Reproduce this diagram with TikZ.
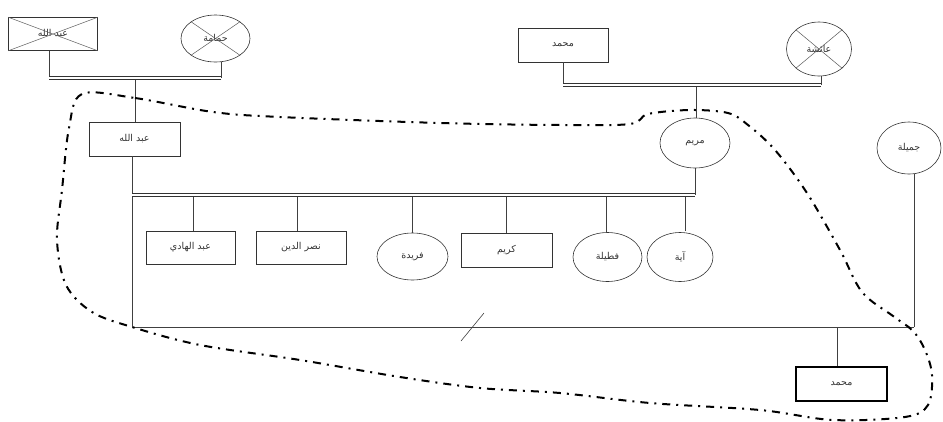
\documentclass[tikz,border=0pt]{standalone}
\usepackage{fontspec}
\newfontfamily\arabicfont[Script=Arabic]{DejaVu Sans}
\TeXXeTstate=1
\usetikzlibrary{shapes.geometric}
\newcommand{\ar}[1]{{\arabicfont\beginR #1\endR}}
\tikzset{
  base/.style={draw=black!80, line width=0.6pt, inner sep=0pt, font=\fontsize{9.5}{11}\selectfont, text=black!80},
  pbox/.style={base, rectangle, minimum width=89pt, minimum height=33pt},
  pcirc/.style={base, ellipse},
  conn/.style={draw=black!75, line width=0.6pt},
  marr/.style={draw=black!80, line width=0.7pt, double=white, double distance=2.6pt},
  cross/.style={draw=black!65, line width=0.5pt},
  bound/.style={draw=black, line width=2pt, dash pattern=on 8pt off 6pt on 2pt off 6pt}
}
\begin{document}
\begin{tikzpicture}[x=1pt,y=-1pt]
\useasboundingbox (0,0) rectangle (943,421);
% generation 1
\node[pbox] (ab1) at (53,34) {\ar{عبد الله}};
\node[pcirc, minimum width=69pt, minimum height=47pt] (ham) at (215.5,38.5) {\ar{حمامة}};
\node[pbox, minimum width=90pt, minimum height=34pt] (mo1) at (563,45) {\ar{محمد}};
\node[pcirc, minimum width=65pt, minimum height=54pt] (ais) at (819,49) {\ar{عائشة}};
\draw[cross] (ab1.north west) -- (ab1.south east) (ab1.south west) -- (ab1.north east);
\draw[cross] (ham.north west) -- (ham.south east) (ham.south west) -- (ham.north east);
\draw[cross] (ais.north west) -- (ais.south east) (ais.south west) -- (ais.north east);
% generation 2
\node[pbox, minimum width=91pt, minimum height=34pt] (ab2) at (134.5,139) {\ar{عبد الله}};
\node[pcirc, minimum width=70pt, minimum height=50pt] (mar) at (695,143) {\ar{مريم}};
\node[pcirc, minimum width=64pt, minimum height=52pt] (jam) at (909,148) {\ar{جميلة}};
% generation 3
\node[pbox] (abh) at (190.5,247.5) {\ar{عبد الهادي}};
\node[pbox, minimum width=90pt] (nas) at (301,247.5) {\ar{نصر الدين}};
\node[pcirc, minimum width=71pt, minimum height=47pt] (far) at (412.5,256.5) {\ar{فريدة}};
\node[pbox, minimum width=91pt, minimum height=34pt] (kar) at (506.5,250) {\ar{كريم}};
\node[pcirc, minimum width=69pt, minimum height=49pt] (fat) at (607.5,257) {\ar{فطيلة}};
\node[pcirc, minimum width=66pt, minimum height=49pt] (aya) at (680,257) {\ar{آية}};
\node[pbox, minimum width=91pt, minimum height=34pt, line width=2.6pt, draw=black] (mo2) at (841.5,384) {\ar{محمد}};
% junction coordinates
\coordinate (m1l) at (49,78);
\coordinate (m1r) at (221,78);
\coordinate (m1c) at (135,79.6);
\coordinate (m2l) at (563,85);
\coordinate (m2r) at (821,85);
\coordinate (m2c) at (696,86.6);
\coordinate (m3l) at (132,195);
\coordinate (m3b) at (132,196.6);
\coordinate (m3r) at (695,195);
\coordinate (c1) at (193,196.6);
\coordinate (c2) at (297,196.6);
\coordinate (c3) at (412,196.6);
\coordinate (c4) at (506,196.6);
\coordinate (c5) at (606,196.6);
\coordinate (c6) at (685,196.6);
\coordinate (m4l) at (132,327);
\coordinate (m4r) at (914,327);
\coordinate (m4c) at (837,327);
\coordinate (s1) at (461,341);
\coordinate (s2) at (484,313);
% couple 1
\draw[conn] (ab1.south -| m1l) -- (m1l);
\draw[conn] (ham.south -| m1r) -- (m1r);
\draw[marr] (m1l) -- (m1r);
\draw[conn] (m1c) -- (ab2.north -| m1c);
% couple 2
\draw[conn] (mo1.south -| m2l) -- (m2l);
\draw[conn] (ais.south -| m2r) -- (m2r);
\draw[marr] (m2l) -- (m2r);
\draw[conn] (m2c) -- (mar.north -| m2c);
% couple 3
\draw[conn] (ab2.south -| m3l) -- (m3l);
\draw[conn] (mar.south -| m3r) -- (m3r);
\draw[marr] (m3l) -- (m3r);
\draw[conn] (c1) -- (abh.north -| c1);
\draw[conn] (c2) -- (nas.north -| c2);
\draw[conn] (c3) -- (far.north -| c3);
\draw[conn] (c4) -- (kar.north -| c4);
\draw[conn] (c5) -- (fat.north -| c5);
\draw[conn] (c6) -- ([yshift=0.8pt]aya.north -| c6);
% couple 4
\draw[conn] (m3b) -- (m4l);
\draw[conn] (jam.south -| m4r) -- (m4r);
\draw[conn] (m4l) -- (m4r);
\draw[conn] (m4c) -- (mo2.north -| m4c);
\draw[conn] (s1) -- (s2);
% household boundary
\draw[bound] plot[smooth cycle, tension=0.55] coordinates {
(82,94) (135,98) (213,112) (280,117) (440,123) (560,125) (630,124)
(648,114) (690,110) (728,113) (748,125) (775,150) (807,193) (840,250)
(862,292) (893,316) (913,331) (925,350) (932,375) (928,405) (905,417)
(833,420) (760,410) (650,403) (560,393) (480,388) (400,377) (300,360)
(200,345) (132,327) (92,312) (66,285) (57,240) (62,190) (69,128)};
\end{tikzpicture}
\end{document}
